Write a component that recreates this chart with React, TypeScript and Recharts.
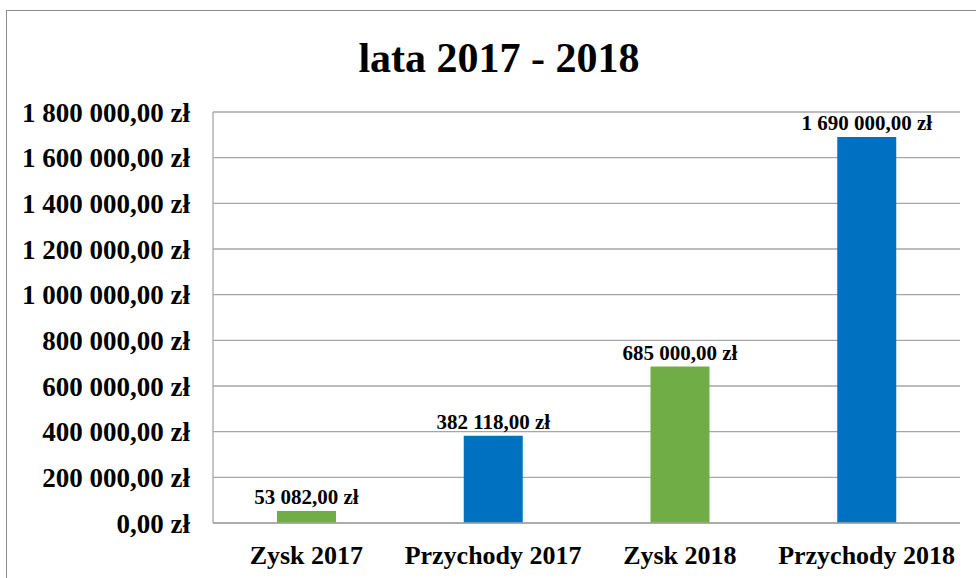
import React from "react";
import { BarChart, Bar, XAxis, YAxis, CartesianGrid, Cell, LabelList } from "recharts";

const categories = ["Zysk 2017", "Przychody 2017", "Zysk 2018", "Przychody 2018"];
const values = [53082, 382118, 685000, 1690000];
const yTicks = [0, 200000, 400000, 600000, 800000, 1000000, 1200000, 1400000, 1600000, 1800000];

const GREEN = "#70AD47";
const BLUE = "#0070C0";
const barColors = [GREEN, BLUE, GREEN, BLUE];
const FONT = "'Liberation Serif', 'Times New Roman', serif";

const data = categories.map((name, i) => ({ name, value: values[i] }));

function formatZl(v: number) {
  const [intPart, dec] = Number(v).toFixed(2).split(".");
  const grouped = intPart.replace(/\B(?=(\d{3})+(?!\d))/g, " ");
  return `${grouped},${dec} zł`;
}

const ValueLabel = (props: any) => {
  const { x, y, width, value } = props;
  return (
    <text
      x={Number(x) + Number(width) / 2}
      y={Number(y) - 7}
      textAnchor="middle"
      fontSize={21}
      fontWeight="bold"
      fontFamily={FONT}
      fill="#000"
    >
      {formatZl(Number(value))}
    </text>
  );
};

export default function App() {
  return (
    <div
      style={{
        position: "absolute",
        left: 0,
        top: 0,
        width: 976,
        height: 578,
        overflow: "hidden",
        background: "#fff",
        fontFamily: FONT,
      }}
    >
      <div
        style={{
          position: "absolute",
          left: 6,
          top: 10,
          width: 1000,
          height: 600,
          border: "1.5px solid #8c8c8c",
        }}
      />
      <div
        style={{
          position: "absolute",
          left: 0,
          top: 35,
          width: 998,
          textAlign: "center",
          fontSize: 42,
          lineHeight: "46px",
          fontWeight: "bold",
          color: "#000",
        }}
      >
        lata 2017 - 2018
      </div>
      <div style={{ position: "absolute", left: 0, top: 0 }}>
        <BarChart width={976} height={578} data={data} margin={{ top: 112, right: 16, left: 0, bottom: 0 }}>
          <CartesianGrid vertical={false} stroke="#a6a6a6" strokeWidth={1.3} />
          <XAxis
            dataKey="name"
            height={55}
            tickLine={false}
            tickMargin={17}
            axisLine={{ stroke: "#a6a6a6", strokeWidth: 1.3 }}
            tick={{ fontSize: 26, fontWeight: "bold", fill: "#000", fontFamily: FONT }}
            interval={0}
          />
          <YAxis
            width={213}
            domain={[0, 1800000]}
            ticks={yTicks}
            tickLine={false}
            tickMargin={17}
            tickFormatter={formatZl}
            axisLine={{ stroke: "#a6a6a6", strokeWidth: 1.3 }}
            tick={{ fontSize: 27, fontWeight: "bold", fill: "#000", fontFamily: FONT }}
          />
          <Bar dataKey="value" barSize={59} isAnimationActive={false}>
            {data.map((d, i) => (
              <Cell key={d.name} fill={barColors[i]} />
            ))}
            <LabelList dataKey="value" content={ValueLabel} />
          </Bar>
        </BarChart>
      </div>
    </div>
  );
}
